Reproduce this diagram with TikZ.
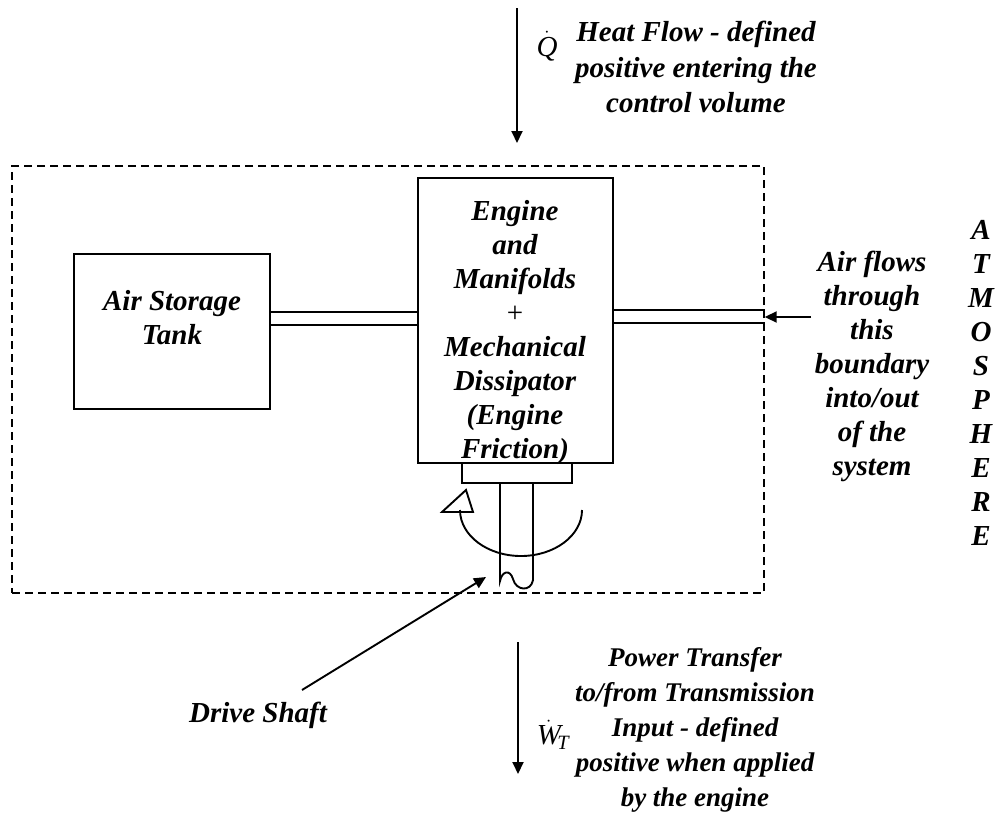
\documentclass[tikz,border=0pt]{standalone}
\usepackage{fontspec}
\setmainfont{Liberation Serif}
\usetikzlibrary{arrows.meta}
\begin{document}
\begin{tikzpicture}[x=1pt,y=-1pt,line width=1.9pt,
  txt/.style={font=\fontsize{29}{34}\selectfont\bfseries\itshape,align=center,inner sep=0pt},
  sym/.style={font=\fontsize{29}{34}\selectfont,inner sep=0pt},
  box/.style={draw,line width=1.9pt,inner sep=0pt},
  cvbox/.style={draw,dashed,dash pattern=on 8pt off 5pt,line width=1.4pt,inner sep=0pt},
  arr/.style={-{Triangle[length=12pt,width=11pt]},line width=1.9pt}]
\useasboundingbox (0,0) rectangle (999,812);
% control volume
\node[cvbox,minimum width=752,minimum height=427] (cv) at (388,379.5) {};
% boxes
\node[box,minimum width=196,minimum height=155] (tank) at (172,331.5) {};
\node[box,minimum width=195,minimum height=285] (eng) at (515.5,320.5) {};
\node[box,minimum width=110,minimum height=20] (hub) at (517,473) {};
% texts
\node[txt] (tanktxt) at (172,318) {Air Storage\\Tank};
\node[txt] (engtxt) at (515,333) {Engine\\and\\Manifolds\\{\mdseries\upshape +}\\Mechanical\\Dissipator\\(Engine\\Friction)};
\node[txt,font=\fontsize{29}{35.5}\selectfont\bfseries\itshape] (heattxt) at (696,67) {Heat Flow - defined\\positive entering the\\control volume};
\node[txt] (airtxt) at (872,366) {Air flows\\through\\this\\boundary\\into/out\\of the\\system};
\node[txt] (atmtxt) at (981,383) {A\\T\\M\\O\\S\\P\\H\\E\\R\\E};
\node[txt,font=\fontsize{27}{35}\selectfont\bfseries\itshape] (powtxt) at (695,730) {Power Transfer\\to/from Transmission\\Input - defined\\positive when applied\\by the engine};
\node[txt] (dstxt) at (258,715) {Drive Shaft};
\node[sym] (qlab) at (547,46) {$\dot{\mathit{Q}}$};
\node[sym] (wlab) at (553,735) {$\dot{\mathit{W}}_{\!\mathit{T}}$};
% pipes
\draw (tank.east |- 0,312) -- (eng.west |- 0,312);
\draw (tank.east |- 0,325) -- (eng.west |- 0,325);
\draw (eng.east |- 0,310) -- (cv.east |- 0,310);
\draw (eng.east |- 0,323) -- (cv.east |- 0,323);
% arrows
\coordinate (qtop) at (517,8);
\coordinate (qend) at (517,143);
\draw[arr] (qtop) -- (qend);
\coordinate (wtop) at (518,642);
\coordinate (wend) at (518,774);
\draw[arr] (wtop) -- (wend);
\coordinate (airsrc) at (811,317);
\draw[arr] (airsrc) -- (cv.east |- airsrc);
% shaft
\coordinate (shl) at (500,483);
\coordinate (shr) at (533,483);
\draw (shl) -- (500,581) .. controls (502,571) and (510,569) .. (513,579)
  .. controls (516,591) and (531,592) .. (533,580) -- (shr);
% rotation arrow
\draw (582,510) arc[start angle=0,end angle=180,x radius=61,y radius=46];
\draw[line width=1.9pt,line join=miter] (442,512) -- (473,512) -- (466,490) -- cycle;
% drive shaft pointer
\coordinate (dsfrom) at (302,690);
\coordinate (dsto) at (486,577);
\draw[arr] (dsfrom) -- (dsto);
\end{tikzpicture}
\end{document}
